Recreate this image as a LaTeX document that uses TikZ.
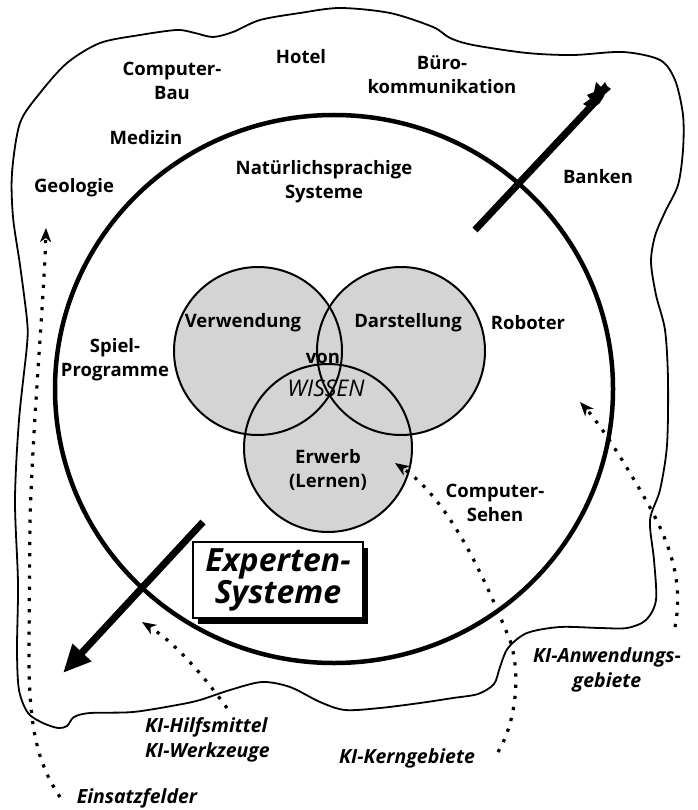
\documentclass[tikz,border=0pt]{standalone}
\usepackage{fontspec}
\setmainfont{Open Sans}
\usetikzlibrary{arrows.meta,shadows}
\begin{document}
\begin{tikzpicture}[x=1pt,y=-1pt,
  lbl/.style={font=\bfseries\fontsize{18.5}{24}\selectfont, align=center, inner sep=0pt},
  ilbl/.style={font=\bfseries\itshape\fontsize{19.5}{25}\selectfont, align=center, inner sep=0pt},
  blobline/.style={line width=1.8pt, line join=round},
  bigring/.style={line width=4.5pt},
  vennline/.style={line width=2pt},
  vennfill/.style={fill=black!17},
  dotarrow/.style={line width=3.2pt, dash pattern=on 3.2pt off 8pt, -{Stealth[length=14pt,width=11pt,inset=4pt]}},
  thickarrow/.style={line width=7pt},
  exbox/.style={draw, line width=2.5pt, fill=white, minimum width=170pt, minimum height=76pt,
     inner sep=0pt, align=center, font=\bfseries\itshape\fontsize{32}{32}\selectfont,
     drop shadow={shadow xshift=5pt, shadow yshift=-6pt, fill=black, opacity=1}}
]
\useasboundingbox (0,0) rectangle (697,810);

% outer blob
\draw[blobline] plot[smooth cycle, tension=0.5] coordinates {
 (12,173) (20,123) (40,93) (67,63) (100,43) (140,35) (177,30) (195,33) (213,37) (233,32)
 (260,20) (300,13) (340,8) (390,13) (433,27) (450,38) (473,45) (527,53) (573,55) (623,52)
 (660,60) (675,80) (683,115) (683,150) (678,185) (665,212) (655,236) (651,262) (656,295)
 (665,330) (668,380) (667,445) (660,490) (650,520) (654,560) (656,600) (646,620) (627,628)
 (600,628) (560,627) (527,633) (508,648) (500,667) (494,684) (478,694) (453,698) (420,703)
 (380,708) (345,710) (320,702) (290,687) (262,682) (230,690) (200,700) (177,705) (133,712)
 (90,713) (74,717) (67,726) (58,728) (43,723) (28,713) (19,690) (17,650) (18,583) (15,500)
 (19,420) (27,345) (27,320) (20,265) (13,217)};

% big circle
\draw[bigring] (334,389) ellipse [x radius=279pt, y radius=274pt];

% Venn fills
\fill[vennfill] (258,351) circle [radius=84pt];
\fill[vennfill] (401,351) circle [radius=84pt];
\fill[vennfill] (328,448) circle [radius=84pt];

% texts inside Venn
\node[lbl] (verw) at (243,323) {Verwendung};
\node[lbl] (darst) at (408,323) {Darstellung};
\node[lbl] (von) at (323,358) {von};
\node[inner sep=0pt, font=\itshape\fontsize{23}{24}\selectfont] (wissen) at (326,388) {WISSEN};
\node[lbl] (erwerb) at (328,470) {Erwerb\\(Lernen)};

% Venn outlines
\draw[vennline] (258,351) circle [radius=84pt];
\draw[vennline] (401,351) circle [radius=84pt];
\draw[vennline] (328,448) circle [radius=84pt];

% labels
\node[lbl] (comp) at (172,81) {Computer-\\Bau};
\node[lbl] (hotel) at (301,57) {Hotel};
\node[lbl] (buero) at (442,75) {Büro-\\kommunikation};
\node[lbl] (medizin) at (146,138) {Medizin};
\node[lbl] (geologie) at (74,188) {Geologie};
\node[lbl] (natur) at (324,182) {Natürlichsprachige\\Systeme};
\node[lbl] (banken) at (598,177) {Banken};
\node[lbl] (spiel) at (115,360) {Spiel-\\Programme};
\node[lbl] (roboter) at (528,323) {Roboter};
\node[lbl] (csehen) at (495,503) {Computer-\\Sehen};

% expert systems box
\node[exbox] (exp) at (278,580) {Experten-\\Systeme};

% thick arrow (tail)
\coordinate (tA) at (475,230);
\coordinate (tB) at (597,100);
\draw[thickarrow] (tA) -- (tB);
\fill (590,108) -- (583,104) -- (590,99) -- (587,95) -- (594,92) -- (596,82) -- (601,87)
  -- (605,82) -- (607,86) -- (611,89) -- (605,94) -- (603,98) -- (599,104) -- cycle;

% thick arrow (head)
\coordinate (hA) at (203,522);
\coordinate (hB) at (63,673);
\draw[thickarrow, -{Triangle[length=28pt,width=24pt]}] (hA) -- (hB);

% dotted arrows
\coordinate (d1s) at (60,797);
\coordinate (d1e) at (46,228);
\draw[dotarrow] (d1s) .. controls (35,760) and (28,720) .. (29,640) -- (30,520)
  .. controls (33,420) and (44,300) .. (d1e);

\coordinate (d2s) at (227,708);
\coordinate (d2e) at (142,622);
\draw[dotarrow] (d2s) .. controls (205,678) and (178,645) .. (d2e);

\coordinate (d3s) at (498,752);
\coordinate (d3e) at (395,463);
\draw[dotarrow] (d3s) .. controls (520,715) and (520,660) .. (507,633)
  .. controls (485,580) and (450,500) .. (d3e);

\coordinate (d4s) at (675,627);
\coordinate (d4e) at (580,402);
\draw[dotarrow] (d4s) .. controls (683,585) and (672,550) .. (653,513)
  .. controls (635,480) and (605,430) .. (d4e);

% outside labels
\node[ilbl] (kianw) at (607,670) {KI-Anwendungs-\\gebiete};
\node[ilbl, anchor=west, align=left] (kihilf) at (145,740) {KI-Hilfsmittel\\KI-Werkzeuge};
\node[ilbl] (kikern) at (407,758) {KI-Kerngebiete};
\node[ilbl] (einsatz) at (137,798) {Einsatzfelder};
\end{tikzpicture}
\end{document}
